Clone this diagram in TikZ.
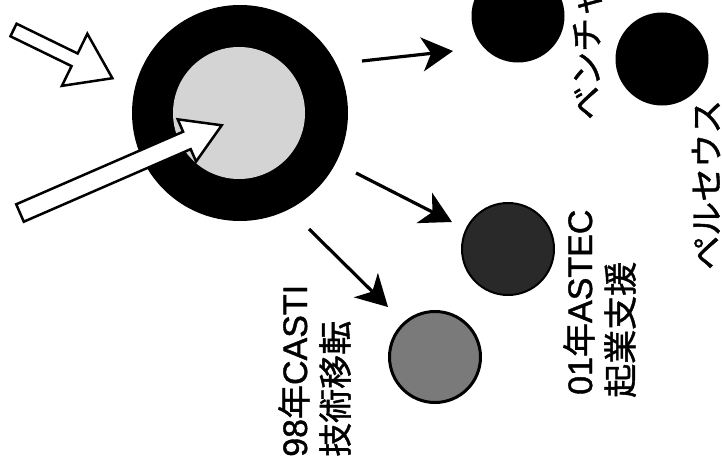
\documentclass[tikz,border=0pt]{standalone}
\usepackage{fontspec}
\setmainfont{Liberation Sans}[FakeBold=1.2]
\newfontfamily\jp{Noto Sans CJK JP}[FakeBold=1.2]
\usetikzlibrary{arrows.meta}
\begin{document}
\begin{tikzpicture}[x=1pt,y=1pt,
  hollow/.style={draw=black, fill=white, line width=2.5pt, line join=miter},
  thinarrow/.style={line width=3.2pt, -{Stealth[length=31pt,width=34pt,inset=9pt]}},
  lbl/.style={rotate=90, anchor=base west, inner sep=0pt, font=\fontsize{34}{41}\selectfont},
  disc/.style={circle, inner sep=0pt, minimum size=#1}]
\useasboundingbox (0,0) rectangle (722,-460);
\clip (0,0) rectangle (722,-460);
\fill[white] (0,0) rectangle (722,-460);
% central circle
\node[disc=216pt, fill=black] (core) at (240,-113) {};
\node[disc=132pt, fill=black!17] (inner) at (239,-113) {};
% spin-off circles
\node[disc=93pt, fill=black] (venc) at (518,-16) {};
\node[disc=93pt, fill=black] (perc) at (662,-59) {};
\node[disc=92pt, draw=black, line width=2pt, fill=black!84] (astc) at (508,-249) {};
\node[disc=91pt, draw=black, line width=3pt, fill=black!52] (casc) at (435,-357) {};
% hollow arrows
\begin{scope}[shift={(13.5,-30)}, rotate=-26]
\draw[hollow] (0,-7) -- (68,-7) -- (68,-29) -- (110,0) -- (68,29) -- (68,7) -- (0,7) -- cycle;
\end{scope}
\begin{scope}[shift={(20,-213)}, rotate=23.5]
\draw[hollow] (0,-9.5) -- (182,-9.5) -- (182,-23) -- (220,0) -- (182,23) -- (182,9.5) -- (0,9.5) -- cycle;
\end{scope}
% thin arrows
\coordinate (a1s) at (362,-61);  \coordinate (a1e) at (453,-51);
\coordinate (a2s) at (356,-173); \coordinate (a2e) at (452,-222);
\coordinate (a3s) at (309,-229); \coordinate (a3e) at (388,-307);
\draw[thinarrow] (a1s) -- (a1e);
\draw[thinarrow] (a2s) -- (a2e);
\draw[thinarrow] (a3s) -- (a3e);
% labels
\node[lbl] (casti1) at (307,-457) {98{\jp 年}CASTI};
\node[lbl] (casti2) at (348,-457) {\jp 技術移転};
\node[lbl] (astec1) at (592,-395) {01{\jp 年}ASTEC};
\node[lbl] (astec2) at (633,-398) {\jp 起業支援};
\node[lbl] (venl) at (599,-120) {\jp ベンチャー};
\node[lbl] (perl) at (719,-270) {\jp ペルセウス};
\end{tikzpicture}
\end{document}
